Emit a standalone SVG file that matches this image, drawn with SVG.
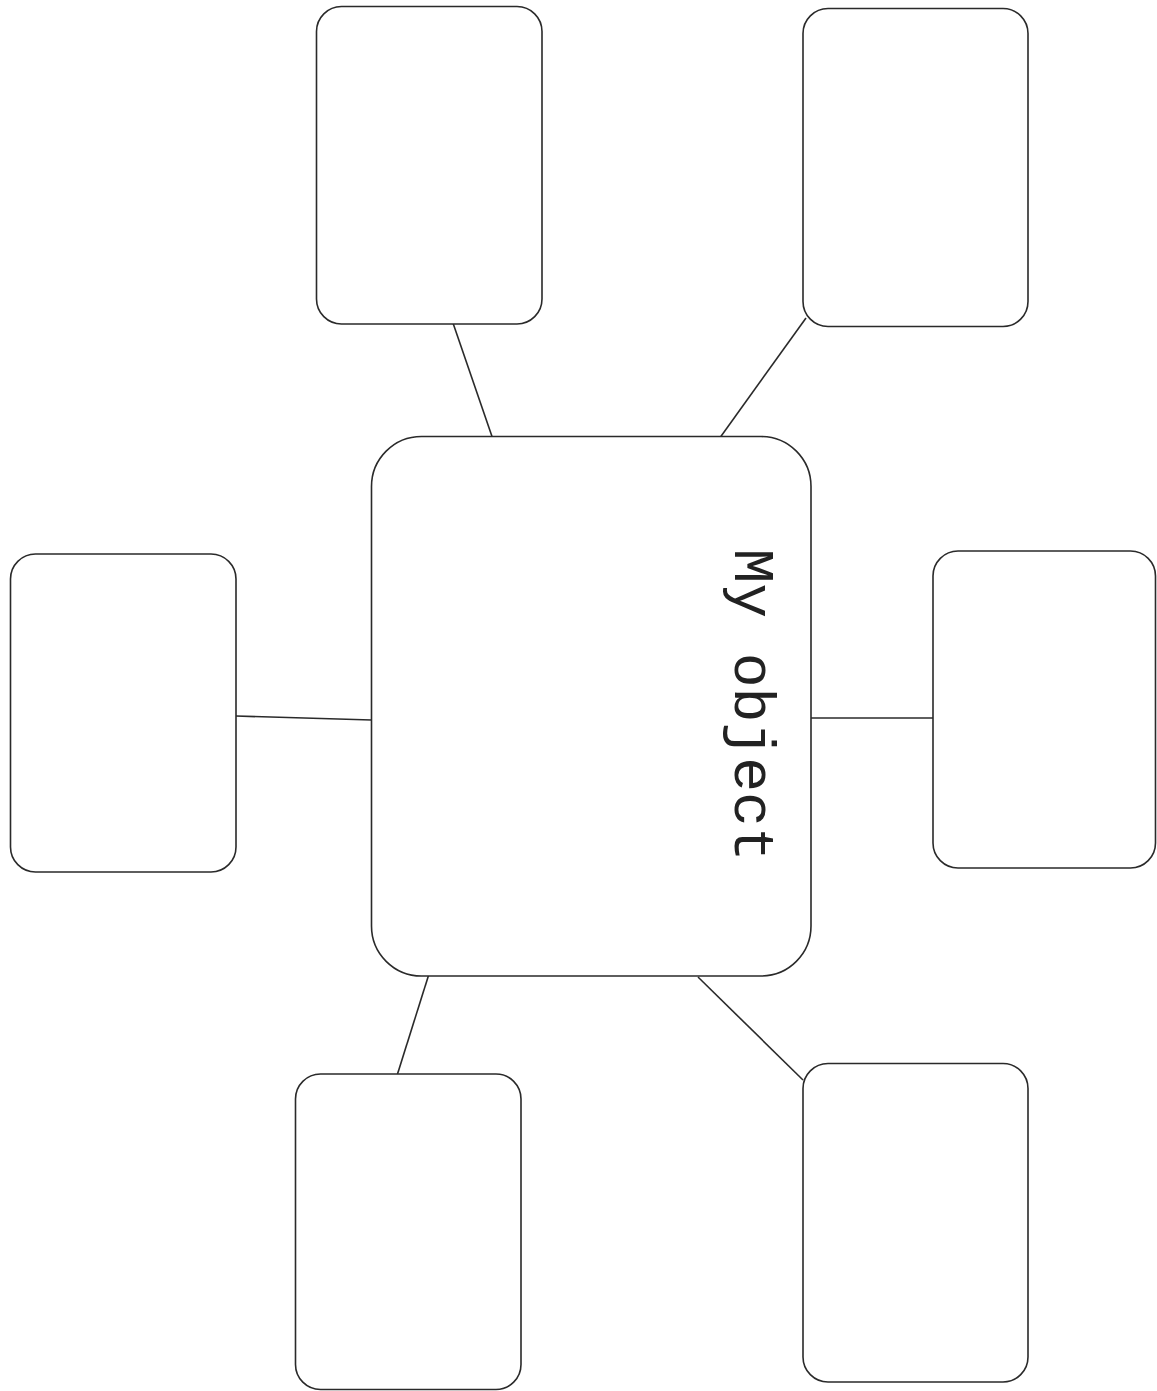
<svg xmlns="http://www.w3.org/2000/svg" width="1157" height="1391" viewBox="0 0 1157 1391">
  <style>
    .box { fill: #ffffff; stroke: #2a2a2a; stroke-width: 1.6; }
    .link { stroke: #2a2a2a; stroke-width: 1.6; fill: none; }
    .title { font-family: "Liberation Mono", "Courier New", monospace; font-size: 58px; fill: #222; }
  </style>
  <rect width="1157" height="1391" fill="#ffffff"/>

  <!-- spokes from the central object to the surrounding cards -->
  <g id="connectors">
    <line class="link" x1="453" y1="323" x2="492" y2="436.5"/>
    <line class="link" x1="806" y1="318" x2="720.5" y2="437"/>
    <line class="link" x1="236" y1="716" x2="371.5" y2="720"/>
    <line class="link" x1="811" y1="718" x2="933" y2="718"/>
    <line class="link" x1="428.5" y1="975.5" x2="397.5" y2="1074"/>
    <line class="link" x1="698" y1="977" x2="803" y2="1080"/>
  </g>

  <g id="center">
    <rect class="box" x="371.5" y="436.5" width="439.5" height="539.5" rx="50" ry="50"/>
    <text class="title" transform="translate(735 705) rotate(90)" text-anchor="middle">My object</text>
  </g>

  <g id="card-top-left">
    <rect class="box" x="316.5" y="6.5" width="225.5" height="317.5" rx="25" ry="25"/>
  </g>
  <g id="card-top-right">
    <rect class="box" x="803" y="8.5" width="225" height="318" rx="25" ry="25"/>
  </g>
  <g id="card-left">
    <rect class="box" x="10.5" y="554" width="225.5" height="318" rx="25" ry="25"/>
  </g>
  <g id="card-right">
    <rect class="box" x="933" y="551" width="222.5" height="317" rx="25" ry="25"/>
  </g>
  <g id="card-bottom-left">
    <rect class="box" x="295.5" y="1074" width="225.5" height="315.5" rx="25" ry="25"/>
  </g>
  <g id="card-bottom-right">
    <rect class="box" x="803" y="1063.5" width="225" height="318.5" rx="25" ry="25"/>
  </g>
</svg>
